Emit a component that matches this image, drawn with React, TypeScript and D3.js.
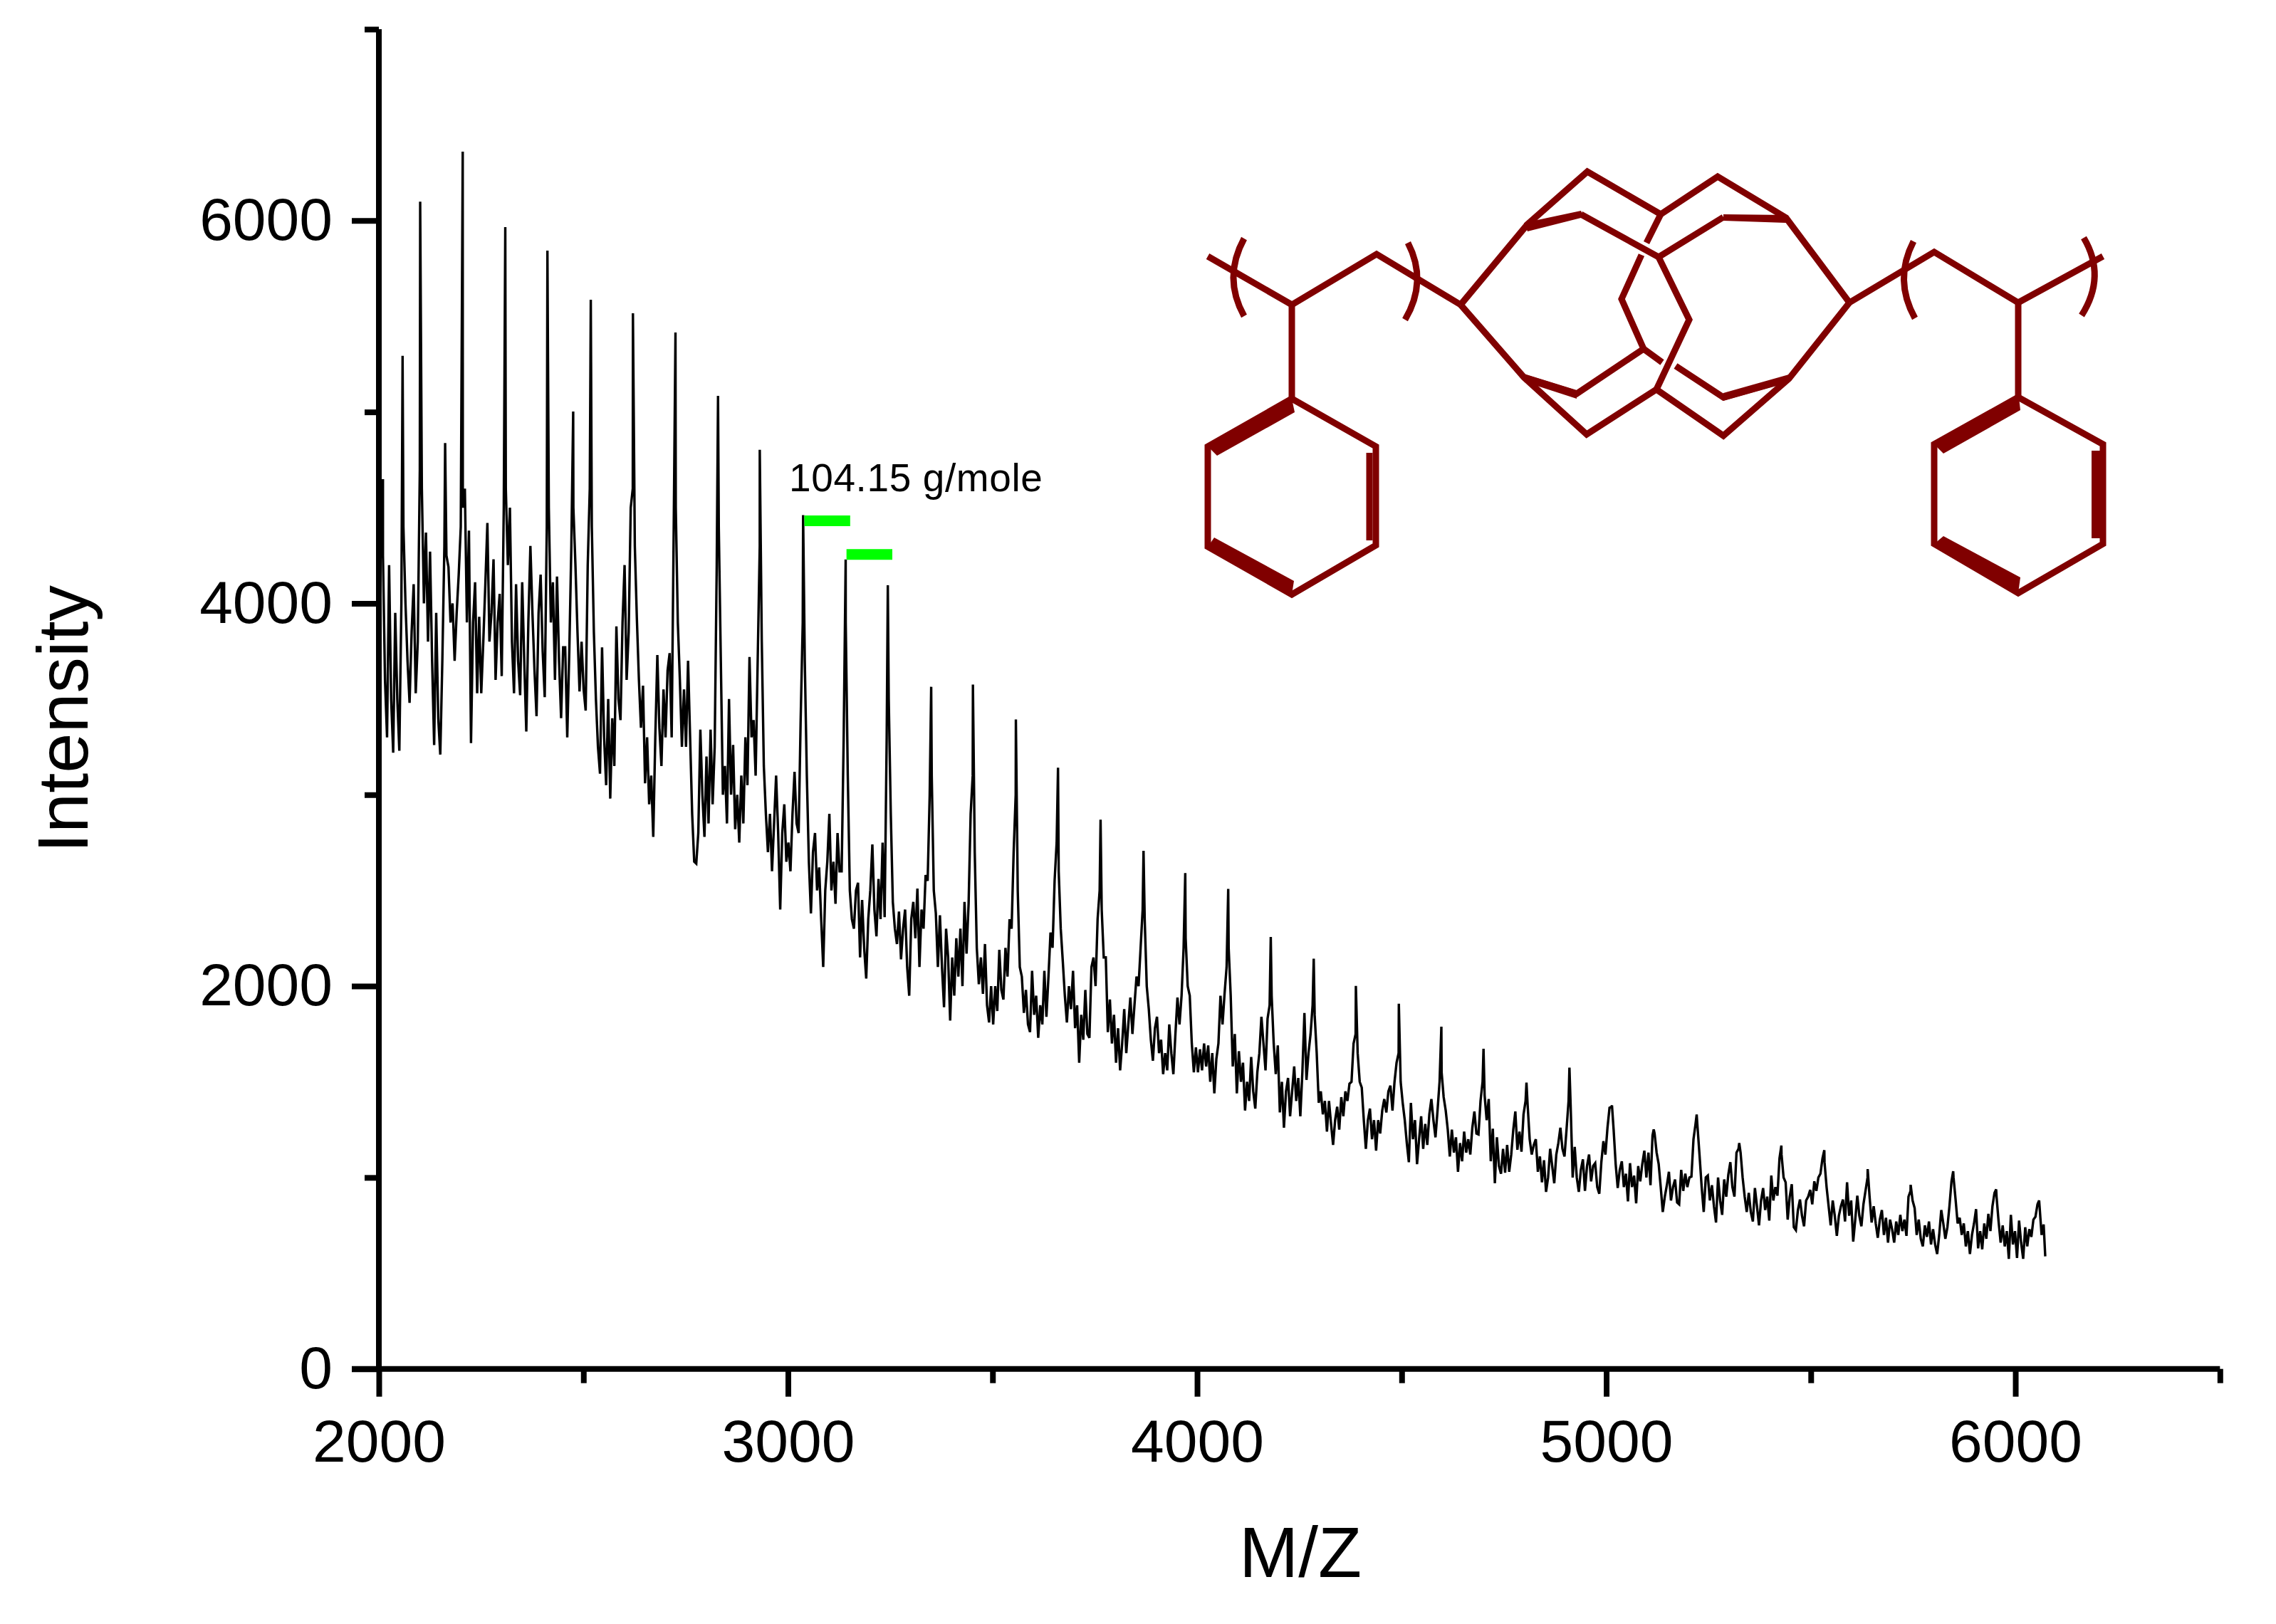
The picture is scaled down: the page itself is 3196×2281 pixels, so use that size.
import { useEffect, useRef } from 'react';
import * as d3 from 'd3';

const width = 3196;
const height = 2281;
const FONT = '"Liberation Sans", Arial, sans-serif';
const INK = '#000000';
const MAROON = '#800000';

// baseline, one value every ~5 m/z, one row per ~100 m/z
const gridStart = 2000;
const gridStep = 5.005;

const baseline2000s = [
  3950, 4300, 4250, 3600, 3300, 4200, 3500, 3220, 3950, 3500, 3230, 4000, 4400, 4000, 3700, 3480, 3850, 4100, 3530, 3800,
  4700, 4600, 4000, 4370, 3800, 4270, 3700, 3260, 3950, 3400, 3210, 3700, 4300, 4250, 4190, 3900, 4000, 3700, 3950, 4150,
  4400, 4500, 4600, 3900, 4380, 3270, 3900, 4110, 3530, 3930, 3530, 3800, 4100, 4420, 3800, 3950, 4230, 3600, 3900, 4050,
  3620, 4500, 4600, 4200, 4500, 3800, 3530, 4100, 3700, 3520, 4110, 3700, 3330, 3900, 4300, 3950, 3650, 3410, 3950, 4150,
  3750, 3510, 4400, 4500, 3900, 4110, 3600, 4140, 3700, 3400, 3770, 3770, 3300, 3750, 4300, 4500, 4200, 3850, 3540, 3800,
  3550, 3440, 4200, 4600, 4400, 3850, 3500, 3250, 3110, 3770, 3300, 3050, 3500, 2980, 3400, 3150, 3880, 3500, 3390, 3900,
  4200, 3600, 3850, 4500, 4600, 4300, 3920, 3600, 3350, 3570, 3060, 3300, 2950, 3100, 2780, 3300, 3730, 3350, 3150, 3550,
  3300, 3650, 3740, 3300, 4400, 4500, 3900, 3600, 3250, 3550, 3250, 3700, 3300, 2900, 2650, 2640, 2800, 3340, 3000, 2780,
  3200, 2850, 3340, 2950, 3250, 4200, 4400, 3700, 3000, 3150, 2850, 3500, 3000, 3260, 2820, 3000, 2750, 3100, 2850, 3300,
  3050, 3720, 3300, 3390, 3100, 3700, 4300, 3800, 3150, 2900, 2700, 2900, 2600, 2850, 3100, 2800, 2400, 2800, 2950, 2650,
];

const baseline3000s = [
  2750, 2600, 2900, 3120, 2850, 2800, 3400, 3900, 3700, 3100, 2650, 2380, 2700, 2800, 2500, 2620, 2350, 2100, 2500, 2650,
  2900, 2500, 2650, 2430, 2800, 2600, 2600, 3300, 3900, 3100, 2500, 2350, 2300, 2500, 2540, 2150, 2450, 2200, 2040, 2350,
  2500, 2740, 2400, 2260, 2560, 2350, 2750, 2360, 3300, 3500, 2900, 2440, 2300, 2220, 2390, 2140, 2300, 2400, 2100, 1950,
  2350, 2440, 2250, 2510, 2100, 2400, 2300, 2580, 2550, 3000, 3100, 2500, 2380, 2100, 2370, 2100, 1890, 2300, 2150, 1820,
  2150, 1950, 2250, 2050, 2300, 2000, 2440, 2170, 2430, 2900, 3100, 2700, 2200, 2010, 2150, 1960, 2220, 1900, 1810, 2000,
  1800, 2000, 1870, 2190, 1980, 1930, 2200, 2050, 2350, 2300, 2700, 3000, 2500, 2100, 2050, 1860, 1980, 1800, 1760, 2080,
  1850, 1950, 1730, 1900, 1800, 2080, 1840, 2050, 2280, 2200, 2550, 2750, 2600, 2300, 2130, 1950, 1810, 2000, 1880, 2080,
  1780, 1900, 1600, 1850, 1720, 1980, 1750, 1730, 2100, 2150, 2000, 2350, 2500, 2400, 2150, 2150, 1760, 1930, 1700, 1850,
  1600, 1780, 1560, 1700, 1880, 1650, 1800, 1940, 1750, 1900, 2050, 2000, 2200, 2400, 2350, 2000, 1880, 1720, 1610, 1780,
  1840, 1650, 1720, 1540, 1650, 1560, 1800, 1650, 1540, 1750, 1940, 1800, 1950, 2200, 2250, 2000, 1950, 1700, 1550, 1680,
];

const baseline4000s = [
  1550, 1670, 1560, 1700, 1580, 1690, 1500, 1650, 1440, 1620, 1700, 1950, 1800, 1960, 2100, 2200, 1950, 1580, 1750, 1440,
  1660, 1500, 1600, 1350, 1500, 1400, 1630, 1450, 1360, 1550, 1650, 1840, 1700, 1560, 1830, 1900, 1950, 1700, 1540, 1690,
  1340, 1500, 1260, 1450, 1520, 1320, 1450, 1580, 1400, 1520, 1320, 1550, 1860, 1510, 1650, 1750, 1900, 1850, 1650, 1390,
  1450, 1330, 1400, 1240, 1400, 1280, 1170, 1300, 1370, 1250, 1420, 1320, 1450, 1400, 1490, 1500, 1700, 1750, 1650, 1500,
  1470, 1300, 1150, 1300, 1360, 1200, 1300, 1140, 1300, 1230, 1350, 1410, 1340, 1450, 1480, 1350, 1500, 1600, 1650, 1500,
  1390, 1300, 1180, 1080, 1390, 1200, 1300, 1070, 1200, 1320, 1150, 1280, 1170, 1330, 1410, 1300, 1210, 1350, 1500, 1550,
  1420, 1350, 1250, 1110, 1250, 1130, 1210, 1030, 1180, 1085, 1240, 1130, 1200, 1120, 1260, 1345, 1230, 1225, 1400, 1500,
  1430, 1300, 1410, 1085, 1255, 970, 1210, 1060, 1020, 1150, 1025, 1170, 1030, 1120, 1250, 1345, 1145, 1240, 1135, 1330,
  1400, 1380, 1200, 1120, 1170, 1200, 1030, 1110, 975, 1090, 925, 1000, 1150, 1060, 970, 1120, 1180, 1260, 1150, 1110,
  1250, 1400, 1380, 1000, 1160, 1000, 925, 1040, 1095, 930, 1060, 1120, 980, 1060, 1075, 950, 915, 1080, 1190, 1120,
];

const baseline5000s = [
  1260, 1365, 1370, 1250, 1070, 945, 1040, 1085, 950, 1020, 875, 1075, 950, 1010, 865, 1060, 980, 1070, 1140, 1000,
  1130, 960, 1220, 1230, 1130, 1070, 950, 820, 900, 960, 1030, 880, 950, 990, 870, 860, 1040, 930, 1020, 950,
  1000, 1005, 1200, 1280, 1260, 1110, 950, 820, 1000, 1010, 880, 960, 850, 765, 1000, 880, 805, 990, 900, 1015,
  1080, 950, 900, 1130, 1150, 1130, 1000, 900, 820, 920, 820, 770, 945, 850, 750, 880, 945, 830, 900, 775,
  1010, 880, 950, 905, 1100, 1120, 1000, 975, 780, 900, 965, 740, 725, 830, 885, 800, 745, 880, 900, 935,
  860, 980, 930, 1000, 1020, 1100, 1080, 950, 850, 750, 880, 800, 695, 800, 850, 885, 770, 975, 800, 880,
  665, 780, 905, 800, 745, 860, 930, 1000, 900, 765, 850, 760, 685, 780, 830, 700, 790, 660, 780, 730,
  660, 770, 700, 805, 720, 780, 695, 900, 930, 880, 840, 700, 780, 680, 640, 750, 690, 770, 650, 730,
  650, 600, 700, 830, 760, 680, 740, 850, 980, 1000, 885, 760, 790, 700, 760, 640, 720, 600, 700, 760,
  835, 630, 720, 625, 760, 680, 810, 720, 850, 920, 900, 770, 660, 750, 640, 720, 575, 805, 650, 720,
];

const baseline6000s = [580, 775, 660, 575, 740, 640, 730, 690, 780, 795, 860, 850, 700, 755];

// peak tops, merged into the baseline; the last pair is where the trace stops
const peakMz = [
  2010, 2058, 2101, 2162, 2205, 2309, 2412, 2475, 2518, 2621, 2725, 2829, 2931, 3037, 3141, 3244, 3350, 3452, 3557, 3660,
  3764, 3869, 3971, 4076, 4180, 4285, 4388, 4493, 4597, 4700, 4805, 4910, 5014, 5116, 5221, 5325, 5428, 5533, 5639, 5744,
  5848, 5953, 6058, 6073,
];
const peakIntensity = [
  4649, 5293, 6099, 4838, 6360, 5966, 5843, 5002, 5586, 5516, 5415, 5084, 4802, 4461, 4229, 4095, 3564, 3576, 3393, 3141,
  2870, 2707, 2591, 2508, 2257, 2143, 2001, 1908, 1788, 1673, 1496, 1574, 1377, 1251, 1329, 1180, 1167, 1143, 1044, 962,
  1033, 938, 880, 588,
];

const xMajor = [2000, 3000, 4000, 5000, 6000];
const xMinor = [2500, 3500, 4500, 5500, 6500];
const yMajor = [0, 2000, 4000, 6000];
const yMinor = [1000, 3000, 5000, 7000];

// the 104.15 g/mole spacing marks
const spacingFrom = [3040, 3143];
const spacingTo = [3152, 3255];
const spacingLevel = [4431, 4256];

const x = d3.scaleLinear().domain([2000, 6500]).range([532, 3117.3]);
const y = d3.scaleLinear().domain([0, 7000]).range([1922.7, 41]);

const baseline = [...baseline2000s, ...baseline3000s, ...baseline4000s, ...baseline5000s, ...baseline6000s];
const trace: [number, number][] = [
  ...baseline.map((v, i): [number, number] => [gridStart + i * gridStep, v]),
  ...peakMz.map((m, i): [number, number] => [m, peakIntensity[i]]),
].sort((a, b) => a[0] - b[0]);

const line = d3.line<[number, number]>().x(d => x(d[0])).y(d => y(d[1]));

// polymer structure inset, in picture pixels
const bondPaths = [
  'M1696 360 L1814 428 L1933 357 L2051 428',
  'M1814 428 L1814 560',
  'M1814 560 L1932 627 L1932 766 L1814 835 L1696 768 L1696 627 Z',
  'M2597 425 L2716 354 L2834 425 L2953 360',
  'M2834 425 L2834 558',
  'M2834 558 L2953 624 L2953 764 L2834 833 L2716 764 L2716 624 Z',
  'M2051 428 L2145 315 L2229 241 L2332 301 L2412 248 L2508 306 L2597 425',
  'M2051 428 L2140 530 L2228 610 L2326 547 L2420 612 L2512 532 L2597 425',
  'M2220 301 L2329 361 L2420 305',
  'M2140 530 L2214 553 L2308 490 L2334 509',
  'M2353 514 L2420 558 L2512 532',
  'M2332 301 L2312 341',
  'M2305 358 L2277 420 L2308 490',
  'M2329 361 L2372 449 L2326 547',
  'M1923 636 L1923 759',
];
const wedgePolys = [
  '1814,560 1818,579 1709,640 1696,627',
  '1705,755 1817,816 1814,835 1696,768',
  '2835,558 2837,576 2729,637 2716,624',
  '2729,753 2837,811 2834,833 2716,764',
  '2937,633 2957,633 2957,756 2937,756',
  '2140,313 2220,296 2224,305 2145,325',
  '2420,301 2508,302 2508,313 2420,310',
  '2140,525 2214,548 2214,560 2140,536',
  '2420,552 2512,526 2512,537 2420,563',
];
const bracketPaths = [
  'M1747 335 Q1717 390 1747 444',
  'M1977 341 Q2005 395 1973 449',
  'M2687 339 Q2659 393 2689 447',
  'M2926 334 Q2958 388 2923 443',
];

const App = () => {
  const axesRef = useRef<SVGGElement | null>(null);

  useEffect(() => {
    const g = d3.select(axesRef.current);
    g.selectAll('*').remove();
    const y0 = y(0);
    const x0 = x(2000);

    const bottom = g.append('g').attr('transform', `translate(0,${y0})`);
    bottom.call(d3.axisBottom(x).tickValues(xMajor).tickSize(39).tickPadding(32).tickFormat(d3.format('d')));
    const bottomMinor = g.append('g').attr('transform', `translate(0,${y0})`);
    bottomMinor.call(d3.axisBottom(x).tickValues(xMinor).tickSize(20).tickFormat(() => ''));

    const left = g.append('g').attr('transform', `translate(${x0},0)`);
    left.call(d3.axisLeft(y).tickValues(yMajor).tickSize(38).tickPadding(27).tickFormat(d3.format('d')));
    const leftMinor = g.append('g').attr('transform', `translate(${x0},0)`);
    leftMinor.call(d3.axisLeft(y).tickValues(yMinor).tickSize(20).tickFormat(() => ''));

    g.selectAll('.domain').attr('stroke', INK).attr('stroke-width', 8);
    g.selectAll('.tick line').attr('stroke', INK).attr('stroke-width', 8);
    g.selectAll('.tick text').attr('font-family', FONT).attr('font-size', 84).attr('fill', INK);
    // domains without the outer end ticks
    bottomMinor.select('.domain').attr('d', `M${x0 - 38},0H${x(6500)}`);
    bottom.select('.domain').remove();
    leftMinor.select('.domain').attr('d', `M0,${y0}V${y(7000)}`);
    left.select('.domain').remove();
  }, []);

  return (
    <svg
      width={width}
      height={height}
      viewBox={`0 0 ${width} ${height}`}
      style={{ position: 'absolute', left: 0, top: 0, background: '#ffffff' }}
    >
      <path d={line(trace) ?? ''} fill="none" stroke={INK} strokeWidth={3.4} strokeLinejoin="miter" strokeMiterlimit={3} />
      <g ref={axesRef} />

      {spacingFrom.map((m, i) => (
        <line key={m} x1={x(m)} x2={x(spacingTo[i])} y1={y(spacingLevel[i])} y2={y(spacingLevel[i])} stroke="#00ff00" strokeWidth={15} />
      ))}
      <text x={1108} y={690} fontFamily={FONT} fontSize={55} letterSpacing={0.6} fill={INK}>104.15 g/mole</text>

      <g fill="none" stroke={MAROON} strokeWidth={9}>
        {bondPaths.map(d => <path key={d} d={d} />)}
        {bracketPaths.map(d => <path key={d} d={d} />)}
      </g>
      <g fill={MAROON}>
        {wedgePolys.map(p => <polygon key={p} points={p} />)}
      </g>

      <text x={1826} y={2215} textAnchor="middle" fontFamily={FONT} fontSize={100} fill={INK}>M/Z</text>
      <text transform="translate(123,1010) rotate(-90)" textAnchor="middle" fontFamily={FONT} fontSize={101} fill={INK}>Intensity</text>
    </svg>
  );
};

export default App;
